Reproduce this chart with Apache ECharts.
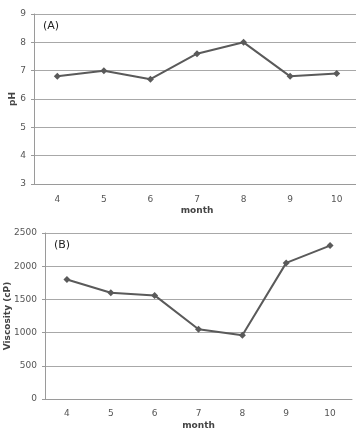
<!DOCTYPE html>
<html>
<head>
<meta charset="utf-8">
<script src="https://cdn.jsdelivr.net/npm/echarts@6/dist/echarts.min.js"></script>
<style>
html,body{margin:0;padding:0;background:#fff;}
#main{width:356px;height:429px;}
</style>
</head>
<body>
<div id="main"></div>
<script>
// data
var months = ['4', '5', '6', '7', '8', '9', '10'];
var phValues = [6.8, 7.0, 6.7, 7.6, 8.0, 6.8, 6.9];
var viscosityValues = [1800, 1600, 1560, 1050, 960, 2050, 2310];

var lineColor = '#5a5a5a';
var labelStyle = {color: '#555', fontSize: 9, fontFamily: 'DejaVu Sans'};
var nameStyle = {fontSize: 9, fontWeight: 'bold', color: '#444', fontFamily: 'DejaVu Sans'};
var gridLine = {lineStyle: {color: '#a8a8a8', width: 1}};
var axisLine = {lineStyle: {color: '#9a9a9a'}};

var chart = echarts.init(document.getElementById('main'));
chart.setOption({
	animation: false,
	title: [
		{text: '(A)', left: 38, top: 16, textStyle: {fontSize: 11, fontWeight: 'normal', color: '#222', fontFamily: 'DejaVu Sans'}},
		{text: '(B)', left: 49, top: 235, textStyle: {fontSize: 11, fontWeight: 'normal', color: '#222', fontFamily: 'DejaVu Sans'}}
	],
	grid: [
		{left: 34, right: -4, top: 14, height: 170, containLabel: false, outerBoundsMode: 'none'},
		{left: 45, right: 4, top: 233, height: 166, containLabel: false, outerBoundsMode: 'none'}
	],
	xAxis: [{
		gridIndex: 0,
		type: 'category',
		data: months,
		name: 'month',
		nameLocation: 'middle',
		nameGap: 22,
		nameMoveOverlap: false,
		nameTextStyle: nameStyle,
		axisLine: axisLine,
		axisTick: {show: false},
		axisLabel: Object.assign({}, labelStyle, {margin: 11})
	}, {
		gridIndex: 1,
		type: 'category',
		data: months,
		name: 'month',
		nameLocation: 'middle',
		nameGap: 22,
		nameMoveOverlap: false,
		nameTextStyle: nameStyle,
		axisLine: axisLine,
		axisTick: {show: false},
		axisLabel: Object.assign({}, labelStyle, {margin: 10})
	}],
	yAxis: [{
		gridIndex: 0,
		type: 'value',
		min: 3,
		max: 9,
		interval: 1,
		name: 'pH',
		nameLocation: 'middle',
		nameGap: 17,
		nameMoveOverlap: false,
		nameTextStyle: nameStyle,
		axisLine: {show: true, lineStyle: {color: '#9a9a9a'}},
		axisTick: {show: true, length: 3, lineStyle: {color: '#9a9a9a'}},
		axisLabel: labelStyle,
		splitLine: gridLine
	}, {
		gridIndex: 1,
		type: 'value',
		min: 0,
		max: 2500,
		interval: 500,
		name: 'Viscosity (cP)',
		nameLocation: 'middle',
		nameGap: 33,
		nameMoveOverlap: false,
		nameTextStyle: nameStyle,
		axisLine: {show: true, lineStyle: {color: '#9a9a9a'}},
		axisTick: {show: true, length: 3, lineStyle: {color: '#9a9a9a'}},
		axisLabel: Object.assign({}, labelStyle, {formatter: function (v) { return String(v); }}),
		splitLine: gridLine
	}],
	series: [{
		type: 'line',
		xAxisIndex: 0,
		yAxisIndex: 0,
		data: phValues,
		symbol: 'diamond',
		symbolSize: 7,
		lineStyle: {color: lineColor, width: 2},
		itemStyle: {color: lineColor}
	}, {
		type: 'line',
		xAxisIndex: 1,
		yAxisIndex: 1,
		data: viscosityValues,
		symbol: 'diamond',
		symbolSize: 7,
		lineStyle: {color: lineColor, width: 2},
		itemStyle: {color: lineColor}
	}]
});
</script>
</body>
</html>
